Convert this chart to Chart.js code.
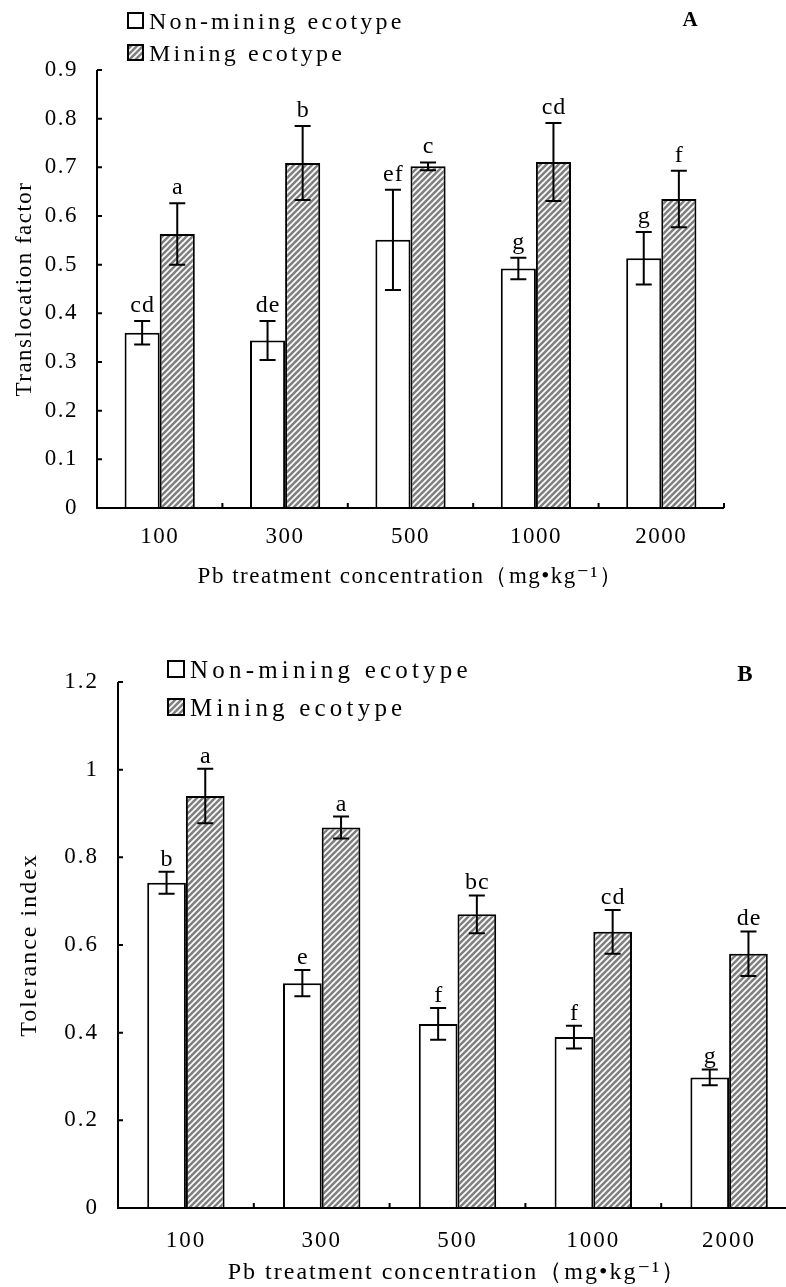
<!DOCTYPE html>
<html>
<head>
<meta charset="utf-8">
<script src="https://cdn.jsdelivr.net/npm/chart.js@4.4.1/dist/chart.umd.min.js"></script>
<style>
html, body { margin: 0; padding: 0; background: #fff; overflow: hidden; width: 786px; height: 1287px; }
canvas { position: absolute; left: 0; }
</style>
</head>
<body>
<canvas id="chartA" width="786" height="600" style="top:0"></canvas>
<canvas id="chartB" width="800" height="667" style="top:620px"></canvas>
<script>
// shared
var categories = ['100', '300', '500', '1000', '2000'];
var seriesNames = ['Non-mining ecotype', 'Mining ecotype'];

// panel A - translocation factor
var nonMiningA = [0.36, 0.344, 0.551, 0.492, 0.513];
var nonMiningErrA = [0.024, 0.04, 0.103, 0.022, 0.054];
var miningA = [0.563, 0.709, 0.702, 0.711, 0.635];
var miningErrA = [0.063, 0.076, 0.008, 0.08, 0.058];
var nonMiningLettersA = ['cd', 'de', 'ef', 'g', 'g'];
var miningLettersA = ['a', 'b', 'c', 'cd', 'f'];
var yTicksA = [0, 0.1, 0.2, 0.3, 0.4, 0.5, 0.6, 0.7, 0.8, 0.9];

// panel B - tolerance index
var nonMiningB = [0.742, 0.513, 0.42, 0.39, 0.298];
var nonMiningErrB = [0.025, 0.03, 0.036, 0.026, 0.018];
var miningB = [0.94, 0.868, 0.67, 0.63, 0.58];
var miningErrB = [0.062, 0.025, 0.043, 0.05, 0.051];
var nonMiningLettersB = ['b', 'e', 'f', 'f', 'g'];
var miningLettersB = ['a', 'a', 'bc', 'cd', 'de'];
var yTicksB = [0, 0.2, 0.4, 0.6, 0.8, 1, 1.2];

var FONT = '"Liberation Serif", "DejaVu Serif", serif';

function hatchPattern(ctx) {
    var c = document.createElement('canvas');
    c.width = 6; c.height = 6;
    var g = c.getContext('2d');
    g.fillStyle = '#7f7f7f';
    g.fillRect(0, 0, 6, 6);
    g.strokeStyle = '#fff';
    g.lineWidth = 1.7;
    g.beginPath();
    g.moveTo(-1, 7); g.lineTo(7, -1);
    g.moveTo(-1, 1); g.lineTo(1, -1);
    g.moveTo(5, 7); g.lineTo(7, 5);
    g.stroke();
    return ctx.createPattern(c, 'repeat');
}

// axes, inward ticks, error bars, letters, legend, panel tag
var overlay = {
    id: 'overlay',
    beforeDraw: function (chart, args, o) {
        chart.ctx.letterSpacing = o.spacing + 'px';
    },
    afterDatasetsDraw: function (chart, args, o) {
        var ctx = chart.ctx, xs = chart.scales.x, ys = chart.scales.y, a = chart.chartArea;
        ctx.save();
        ctx.strokeStyle = '#000';
        ctx.fillStyle = '#000';
        ctx.lineWidth = 2;
        ctx.beginPath();
        ctx.moveTo(a.left, a.top);
        ctx.lineTo(a.left, a.bottom);
        ctx.lineTo(a.right, a.bottom);
        ys.ticks.forEach(function (t) {
            var py = ys.getPixelForValue(t.value);
            ctx.moveTo(a.left, py);
            ctx.lineTo(a.left + 5, py);
        });
        for (var i = 0; i < categories.length; i++) {
            var px = xs.getPixelForValue(i + 0.5);
            ctx.moveTo(px, a.bottom);
            ctx.lineTo(px, a.bottom - 5);
        }
        ctx.stroke();

        // error bars + significance letters
        ctx.font = o.letterFont + 'px ' + FONT;
        ctx.textAlign = 'center';
        ctx.textBaseline = 'alphabetic';
        ctx.letterSpacing = o.letterSpacing + 'px';
        chart.data.datasets.forEach(function (ds, d) {
            var meta = chart.getDatasetMeta(d);
            meta.data.forEach(function (bar, i) {
                var v = ds.data[i], e = ds.errors[i];
                var top = ys.getPixelForValue(v + e), bot = ys.getPixelForValue(v - e);
                ctx.beginPath();
                ctx.moveTo(bar.x, top); ctx.lineTo(bar.x, bot);
                ctx.moveTo(bar.x - 8, top); ctx.lineTo(bar.x + 8, top);
                ctx.moveTo(bar.x - 8, bot); ctx.lineTo(bar.x + 8, bot);
                ctx.stroke();
                ctx.fillText(ds.letters[i], bar.x + o.letterSpacing / 2, top - o.letterGap);
            });
        });

        // legend
        var L = o.legend;
        ctx.font = L.font + 'px ' + FONT;
        ctx.textAlign = 'left';
        ctx.letterSpacing = L.spacing + 'px';
        chart.data.datasets.forEach(function (ds, d) {
            var by = L.y + d * L.gap;
            ctx.fillStyle = ds.backgroundColor;
            ctx.fillRect(L.x, by - L.box, L.box, L.box);
            ctx.lineWidth = 2;
            ctx.strokeRect(L.x, by - L.box, L.box, L.box);
            ctx.fillStyle = '#000';
            ctx.fillText(ds.label, L.x + L.box + 6, by + 1);
        });

        // panel tag
        ctx.letterSpacing = '0px';
        ctx.font = 'bold ' + o.tag.size + 'px ' + FONT;
        ctx.textAlign = 'center';
        ctx.textBaseline = 'middle';
        ctx.fillText(o.tag.text, o.tag.x, o.tag.y);
        ctx.restore();
    }
};

function makeChart(id, cfg) {
    var canvas = document.getElementById(id);
    var ctx = canvas.getContext('2d');
    var hatch = hatchPattern(ctx);
    return new Chart(ctx, {
        type: 'bar',
        data: {
            labels: categories,
            datasets: [{
                label: seriesNames[0],
                data: cfg.non,
                errors: cfg.nonErr,
                letters: cfg.nonLetters,
                backgroundColor: '#ffffff',
                borderColor: '#000000',
                borderWidth: 2,
                barPercentage: 1,
                categoryPercentage: cfg.catPct
            }, {
                label: seriesNames[1],
                data: cfg.min,
                errors: cfg.minErr,
                letters: cfg.minLetters,
                backgroundColor: hatch,
                borderColor: '#000000',
                borderWidth: 2,
                barPercentage: 1,
                categoryPercentage: cfg.catPct
            }]
        },
        options: {
            responsive: false,
            maintainAspectRatio: false,
            animation: false,
            devicePixelRatio: 1,
            layout: { padding: { top: cfg.top, right: cfg.right, left: 0, bottom: 0 } },
            plugins: {
                legend: { display: false },
                tooltip: { enabled: false },
                overlay: {
                    spacing: cfg.spacing,
                    letterFont: 24,
                    letterSpacing: 1,
                    letterGap: cfg.letterGap,
                    legend: cfg.legend,
                    tag: cfg.tag
                }
            },
            scales: {
                x: {
                    grid: { display: false, drawTicks: false },
                    border: { display: false },
                    ticks: { color: '#000', padding: cfg.xPad, font: { family: FONT, size: cfg.tickSize } },
                    title: {
                        display: true,
                        text: 'Pb treatment concentration（mg•kg⁻¹）',
                        color: '#000',
                        font: { family: FONT, size: cfg.xTitleSize },
                        padding: { top: 0, bottom: cfg.xTitlePad }
                    },
                    afterFit: function (s) { s.height = cfg.xHeight; }
                },
                y: {
                    min: 0,
                    max: cfg.yTicks[cfg.yTicks.length - 1],
                    grid: { display: false, drawTicks: false },
                    border: { display: false },
                    afterBuildTicks: function (s) {
                        s.ticks = cfg.yTicks.map(function (v) { return { value: v }; });
                    },
                    ticks: {
                        color: '#000',
                        padding: 19,
                        font: { family: FONT, size: cfg.tickSize },
                        callback: function (v) { return String(v); }
                    },
                    title: {
                        display: true,
                        text: cfg.yTitle,
                        color: '#000',
                        font: { family: FONT, size: cfg.yTitleSize },
                        padding: { top: cfg.yTitlePad, bottom: 0 }
                    },
                    afterFit: function (s) { s.width = cfg.yWidth; }
                }
            }
        },
        plugins: [overlay]
    });
}

makeChart('chartA', {
    non: nonMiningA, nonErr: nonMiningErrA, nonLetters: nonMiningLettersA,
    min: miningA, minErr: miningErrA, minLetters: miningLettersA,
    yTicks: yTicksA, yTitle: 'Translocation factor',
    catPct: 0.56, top: 70, right: 62, yWidth: 97, xHeight: 92,
    spacing: 1.5, tickSize: 23, xPad: 15, xTitleSize: 23, xTitlePad: 9,
    yTitleSize: 23, yTitlePad: 11, letterGap: 9,
    legend: { x: 128, y: 28, box: 15, gap: 32, font: 24, spacing: 3.2 },
    tag: { text: 'A', x: 690, y: 21, size: 21 }
});

makeChart('chartB', {
    non: nonMiningB, nonErr: nonMiningErrB, nonLetters: nonMiningLettersB,
    min: miningB, minErr: miningErrB, minLetters: miningLettersB,
    yTicks: yTicksB, yTitle: 'Tolerance index',
    catPct: 0.57, top: 62, right: 3, yWidth: 118, xHeight: 79,
    spacing: 2, tickSize: 23, xPad: 19, xTitleSize: 24, xTitlePad: 0,
    yTitleSize: 24, yTitlePad: 15, letterGap: 6,
    legend: { x: 168, y: 57, box: 16, gap: 38, font: 25, spacing: 4.2 },
    tag: { text: 'B', x: 745, y: 55, size: 23 }
});
</script>
</body>
</html>
